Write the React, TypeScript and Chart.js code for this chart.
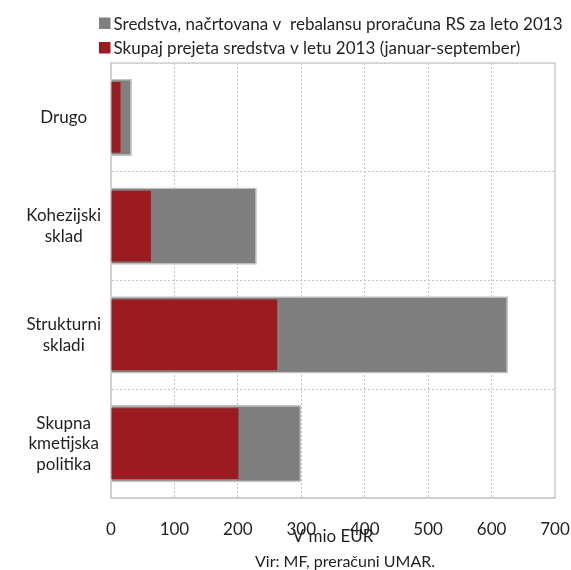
import { useEffect, useRef } from "react";
import { Chart, registerables } from "chart.js";
Chart.register(...registerables);

const categories: (string | string[])[] = [
  "Drugo",
  ["Kohezijski", "sklad"],
  ["Strukturni", "skladi"],
  ["Skupna", "kmetijska", "politika"],
];
const plannedLabel = "Sredstva, načrtovana v  rebalansu proračuna RS za leto 2013";
const receivedLabel = "Skupaj prejeta sredstva v letu 2013 (januar-september)";
const planned = [33, 230, 626, 300];
const received = [15, 63, 262, 201];
const xMin = 0;
const xMax = 700;
const xStep = 100;
const axisTitle = "V mio EUR";
const sourceNote = "Vir: MF, preračuni UMAR.";

const FONT = 'Lato, "Open Sans", sans-serif';
const TEXT = "#231f20";
const GRAY = "#7f7f7f";
const RED = "#9b1c20";
const FRAME = "#d0d0d0";

const legendAndFrame = {
  id: "legendAndFrame",
  afterDraw(chart: any) {
    const ctx = chart.ctx;
    const { left, right, top, bottom } = chart.chartArea;
    ctx.save();
    // frame (top and right edges)
    ctx.strokeStyle = FRAME;
    ctx.lineWidth = 1.5;
    ctx.setLineDash([]);
    ctx.beginPath();
    ctx.moveTo(left, top);
    ctx.lineTo(right, top);
    ctx.lineTo(right, bottom);
    ctx.stroke();
    // legend
    ctx.font = `17px ${FONT}`;
    ctx.textBaseline = "alphabetic";
    ctx.textAlign = "left";
    const items = [chart.data.datasets[0], chart.data.datasets[1]];
    const rows = [29.5, 54];
    items.forEach((ds: any, i: number) => {
      const base = rows[i];
      ctx.fillStyle = ds.backgroundColor;
      ctx.fillRect(99, base - 12, 11.5, 11.5);
      ctx.fillStyle = TEXT;
      ctx.fillText(ds.label, 113.5, base);
    });
    // source note
    ctx.font = `16px ${FONT}`;
    ctx.textAlign = "center";
    ctx.fillText(sourceNote, 345, 567);
    ctx.restore();
  },
};

export default function App() {
  const ref = useRef<HTMLCanvasElement>(null);
  useEffect(() => {
    document.body.style.margin = "0";
    document.body.style.overflow = "hidden";
    const chart = new Chart(ref.current!, {
      type: "bar",
      data: {
        labels: categories,
        datasets: [
          {
            label: plannedLabel,
            data: planned,
            backgroundColor: GRAY,
            borderColor: "#c4c4c4",
            borderWidth: 1.5,
            borderSkipped: "start",
            grouped: false,
            categoryPercentage: 1,
            barPercentage: 0.71,
            order: 2,
          },
          {
            label: receivedLabel,
            data: received,
            backgroundColor: RED,
            borderWidth: 0,
            grouped: false,
            categoryPercentage: 1,
            barPercentage: 0.65,
            order: 1,
          },
        ],
      },
      options: {
        indexAxis: "y",
        responsive: false,
        animation: false,
        layout: { padding: { top: 63, right: 16, left: 0, bottom: 23 } },
        plugins: {
          legend: { display: false },
          tooltip: { enabled: false },
        },
        scales: {
          x: {
            min: xMin,
            max: xMax,
            ticks: {
              stepSize: xStep,
              color: TEXT,
              font: { family: FONT, size: 17 },
              padding: 21,
            },
            grid: {
              color: "#c4c4c4",
              lineWidth: 1,
              drawTicks: false,
            },
            border: { display: true, color: FRAME, width: 2, dash: [2, 2] },
            title: {
              display: true,
              text: axisTitle,
              color: TEXT,
              font: { family: FONT, size: 17 },
              padding: { top: 0, bottom: 0 },
            },
            afterFit(scale: any) {
              scale.height = 49;
              scale.paddingLeft = 0;
              scale.paddingRight = 0;
            },
          } as any,
          y: {
            ticks: {
              color: TEXT,
              font: { family: FONT, size: 17, lineHeight: 1.2 },
              padding: 10,
              crossAlign: "center",
            },
            grid: {
              color: "#c4c4c4",
              lineWidth: 1,
              drawTicks: false,
            },
            border: { display: true, color: FRAME, width: 2, dash: [2, 2] },
            afterFit(scale: any) {
              scale.width = 111;
              scale.paddingTop = 0;
              scale.paddingBottom = 0;
            },
          } as any,
        },
      },
      plugins: [legendAndFrame],
    } as any);
    return () => chart.destroy();
  }, []);
  return (
    <div>
      <canvas ref={ref} width={571} height={570} style={{ display: "block" }} />
    </div>
  );
}
